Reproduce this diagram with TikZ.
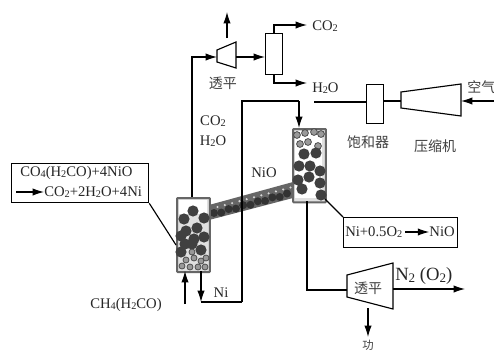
\documentclass[tikz,border=0pt]{standalone}
\usepackage{fontspec}
\setmainfont{Liberation Serif}
\newfontfamily\cjkf{Noto Sans CJK SC}
\usetikzlibrary{arrows.meta}
\newcommand{\dn}[1]{\raisebox{-0.2ex}{\scalebox{0.7}{#1}}}
\tikzset{
 line/.style={draw=black,line width=0.85pt},
 flow/.style={line,-{Latex[length=8.5pt,width=5.5pt]}},
 lab/.style={inner sep=0pt,font=\fontsize{11}{12}\selectfont,text=black!85},
 cn/.style={inner sep=0pt,font=\cjkf\fontsize{10.5}{12}\selectfont,text=black!75},
 unit/.style={line,fill=white,line join=miter},
 reactor/.style={draw=black!60,line width=1.5pt,fill=black!12,rounded corners=0.6pt,inner sep=0pt,anchor=north west},
 dk/.style={fill=black!75},
 lt/.style={fill=black!40,draw=black!70,line width=0.6pt},
 boxn/.style={draw,line width=0.85pt,fill=white,inner sep=0pt,anchor=north west},
}
\begin{document}
\begin{tikzpicture}[x=0.75pt,y=-0.75pt]
\useasboundingbox (0,0) rectangle (494,350);
\fill[white] (0,0) rectangle (494,350);
% riser
\fill[black!60] (209,205) -- (293,182) -- (293,198) -- (209,220) -- cycle;
\foreach \t in {0,...,10}{
  \fill[black!80] ({214+\t*7.3},{213-\t*1.95+mod(\t,2)*1.5}) circle (4);
  \fill[black!15] ({217.5+\t*7.3},{207-\t*1.95}) circle (1.2);
}
% reactors
\node[reactor,minimum width=24.7pt,minimum height=55.5pt] (r1) at (176,197) {};
\node[reactor,minimum width=24.7pt,minimum height=55pt] (r2) at (292,128) {};
\fill[white] (179,200) rectangle (207,214);
\foreach \x/\y in {193/211,184/219,204/218,186/231,197/228,194/239,204/237,185/244,181/252,201/250,192/244,181/236}
  \fill[dk] (\x,\y) circle (5.6);
\foreach \x/\y in {192/252,186/260,194/258,201/261,206/258,182/266,190/267,198/267,205/267}
  \fill[lt] (\x,\y) circle (3);
\fill[white] (295,131) rectangle (322,198);
\foreach \x/\y in {297/135,305/133,314/132,321/134,300/144,308/142,318/146}
  \fill[lt] (\x,\y) circle (3.4);
\foreach \x/\y in {304/154,316/153,299/166,310/166,320/171,298/180,309/177,320/183,302/189,321/195}
  \fill[dk] (\x,\y) circle (5.6);
% top expander
\coordinate (tL) at (217,57);
\coordinate (tR) at (236,57);
\coordinate (tT) at (227,38);
\coordinate (tUp) at (227,12);
\coordinate (l0) at (192,197);
\draw[unit] (217,50) -- (236,42) -- (236,68) -- (217,62) -- cycle;
\node[cn] (t1) at (223,83) {透平};
\node[boxn,minimum width=12.6pt,minimum height=30.7pt] (sep) at (265,33) {};
\node[lab,anchor=west] (co2a) at (312,26) {CO\dn{2}};
\node[lab,anchor=west] (h2oa) at (312,88) {H\dn{2}O};
\coordinate (c2e) at (307,25);
\coordinate (h2e) at (307,83);
\draw[flow] (tT) -- (tUp);
\draw[flow] (tR) -- (sep.west |- tR);
\draw[flow] (sep.north) |- (c2e);
\draw[flow] (sep.south) |- (h2e);
\draw[flow] (l0) |- (tL);
% saturator + compressor
\node[boxn,minimum width=12.7pt,minimum height=29.2pt] (sat) at (366,84) {};
\draw[unit] (401,92) -- (461,84) -- (461,116) -- (401,108) -- cycle;
\coordinate (cL) at (401,101);
\coordinate (cR) at (461,101);
\coordinate (air) at (494,101);
\coordinate (w0) at (314,102);
\draw[line] (w0) -- (sat.west |- w0);
\draw[line] (sat.east |- cL) -- (cL);
\draw[flow] (air) -- (cR);
\node[cn,anchor=west] (airl) at (467,87) {空气};
\node[cn] (sl) at (368,142) {饱和器};
\node[cn] (cl) at (435,146) {压缩机};
% Ni return
\coordinate (n1) at (201,271);
\coordinate (n2) at (201,302);
\coordinate (n3) at (242,302);
\coordinate (n4) at (242,101);
\coordinate (n5) at (299,101);
\coordinate (n6) at (299,128);
\draw[line] (n3) -- (n2);
\draw[line] (n3) -- (n4) -- (n5);
\draw[flow] (n5) -- (n6);
\draw[flow] (n1) -- (n2);
\coordinate (g0) at (185,304);
\coordinate (g1) at (185,271);
\draw[flow] (g0) -- (g1);
% labels
\node[lab] (l1) at (213,121) {CO\dn{2}};
\node[lab] (l2) at (213,141) {H\dn{2}O};
\node[lab] (l3) at (264,173) {NiO};
\node[lab] (l4) at (221,293) {Ni};
\node[lab,anchor=west] (l5) at (90,305) {CH\dn{4}(H\dn{2}CO)};
% left box
\node[boxn,line width=1pt,minimum width=102.7pt,minimum height=29.2pt] (b1) at (11,163) {};
\node[lab,anchor=west] (b1a) at (20,173) {CO\dn{4}(H\dn{2}CO)+4NiO};
\node[lab,anchor=west] (b1b) at (44,192) {CO\dn{2}+2H\dn{2}O+4Ni};
\coordinate (ar0) at (16,192);
\draw[flow] (ar0) -- (b1b.west);
\coordinate (r1l) at (176,245);
\draw[line] (b1.south east) -- (r1l);
% right box
\node[boxn,minimum width=85.5pt,minimum height=22.5pt] (b2) at (343,217) {};
\node[lab,anchor=west] (b2a) at (345,232) {Ni+0.5O\dn{2}};
\node[lab,anchor=east] (b2b) at (455,232) {NiO};
\coordinate (ar1) at (405,232);
\draw[flow] (ar1) -- (b2b.west);
\coordinate (r2l) at (325,199);
\draw[line] (r2l) -- (b2.north west);
% bottom expander
\draw[unit] (347,275) -- (393,263) -- (393,309) -- (347,297) -- cycle;
\node[cn] (t2) at (368,288) {透平};
\coordinate (e0) at (307,201);
\coordinate (e1) at (307,290);
\coordinate (e2) at (347,290);
\draw[line] (e0) -- (e1) -- (e2);
\coordinate (x0) at (393,289);
\coordinate (x1) at (465,289);
\draw[flow] (x0) -- (x1);
\node[lab,anchor=west,font=\fontsize{14}{15}\selectfont] (n2l) at (395,276) {N\dn{2} (O\dn{2})};
\coordinate (p0) at (368,308);
\coordinate (p1) at (368,337);
\draw[flow] (p0) -- (p1);
\node[cn,font=\cjkf\fontsize{8.5}{9}\selectfont] (pl) at (368,345) {功};
\end{tikzpicture}
\end{document}
